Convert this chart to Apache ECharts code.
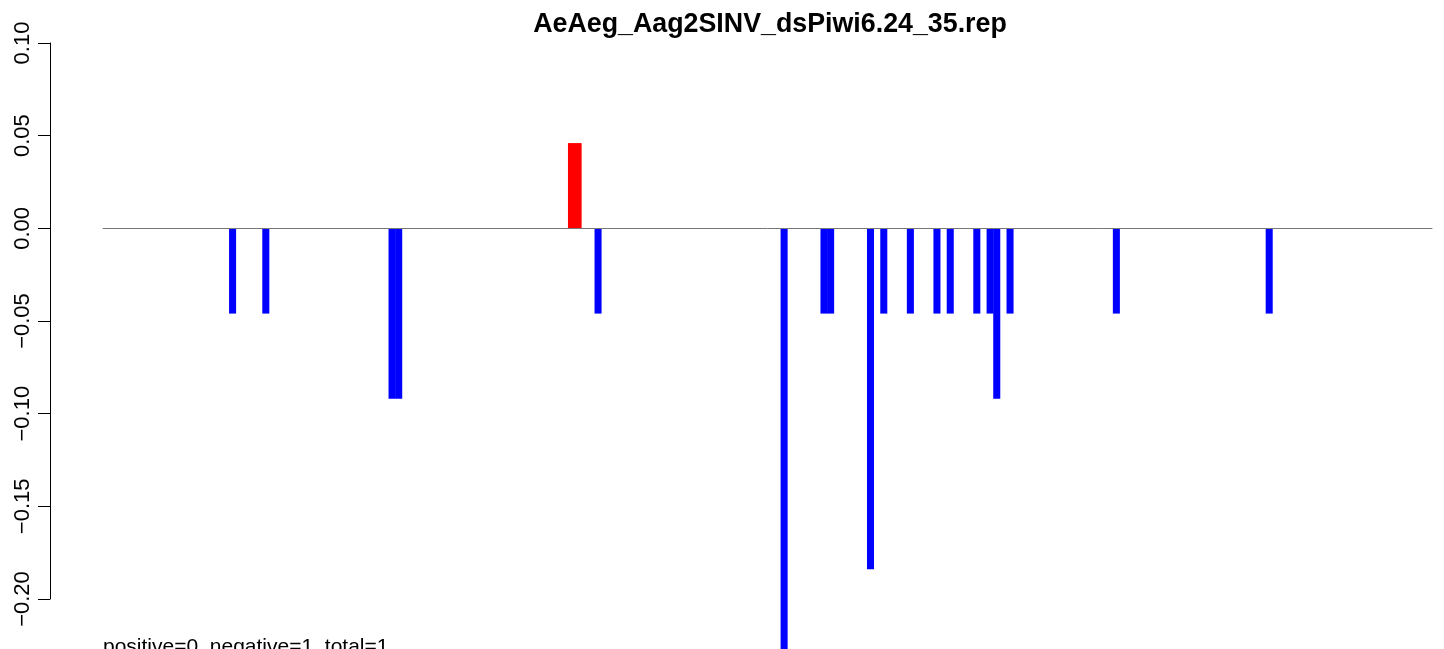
<!DOCTYPE html>
<html>
<head>
<meta charset="utf-8">
<script src="https://cdn.jsdelivr.net/npm/echarts@6/dist/echarts.min.js"></script>
<style>
html,body{margin:0;padding:0;background:#fff;}
#chart{width:1444px;height:649px;}
</style>
</head>
<body>
<div id="chart"></div>
<script>
const titleText = "AeAeg_Aag2SINV_dsPiwi6.24_35.rep";
const footerText = "positive=0, negative=1, total=1";
const binCount = 200;
const yTicks = [-0.20, -0.15, -0.10, -0.05, 0.00, 0.05, 0.10];
const posBins = [70, 71];
const posValues = [0.046, 0.046];
const negBins = [19, 24, 43, 44, 74, 102, 108, 109, 115, 117, 121, 125, 127, 131, 133, 134, 136, 152, 175];
const negValues = [-0.046, -0.046, -0.092, -0.092, -0.046, -0.23, -0.046, -0.046, -0.184, -0.046, -0.046, -0.046, -0.046, -0.046, -0.046, -0.092, -0.046, -0.046, -0.046];

const categories = [];
for (let i = 0; i < binCount; i++) categories.push(String(i + 1));
const posData = categories.map(() => null);
posBins.forEach((b, i) => { posData[b] = posValues[i]; });
const negData = categories.map(() => null);
negBins.forEach((b, i) => { negData[b] = negValues[i]; });

const FONT = "'Liberation Sans', Arial, Helvetica, sans-serif";
const chart = echarts.init(document.getElementById('chart'), null, {renderer: 'canvas'});
chart.setOption({
  animation: false,
  backgroundColor: '#ffffff',
  title: {
    text: titleText,
    left: 765,
    textAlign: 'center',
    top: 6,
    textStyle: {fontFamily: FONT, fontSize: 26.8, fontWeight: 'bold', color: '#000'}
  },
  grid: [
    {left: 50, right: 12, top: 43, height: 556},
    {left: 103, right: 12, top: 43, height: 556}
  ],
  xAxis: [
    {gridIndex: 0, type: 'value', show: false, min: 0, max: 1},
    {gridIndex: 1, type: 'category', data: categories, z: 3,
     axisLine: {show: true, onZero: true, lineStyle: {color: '#777777', width: 1}},
     axisTick: {show: false}, axisLabel: {show: false}, splitLine: {show: false}}
  ],
  yAxis: [
    {gridIndex: 0, type: 'value', min: yTicks[0], max: yTicks[yTicks.length - 1], interval: 0.05,
     axisLine: {show: true, lineStyle: {color: '#000', width: 1}},
     axisTick: {show: true, length: 12, lineStyle: {color: '#000', width: 1}},
     splitLine: {show: false},
     axisLabel: {rotate: 90, margin: 16, fontFamily: FONT, fontSize: 22, color: '#000',
       formatter: v => v.toFixed(2).replace('-', '\u2212')}},
    {gridIndex: 1, type: 'value', min: yTicks[0], max: yTicks[yTicks.length - 1], show: false, splitLine: {show: false}}
  ],
  series: [
    {type: 'bar', xAxisIndex: 1, yAxisIndex: 1, data: posData, barWidth: '106%', barGap: '-100%',
     clip: false, itemStyle: {color: '#ff0000'}},
    {type: 'bar', xAxisIndex: 1, yAxisIndex: 1, data: negData, barWidth: '106%', barGap: '-100%',
     clip: false, itemStyle: {color: '#0000ff'}}
  ],
  graphic: [
    {type: 'text', left: 103, top: 637, z: 10,
     style: {text: footerText, fontFamily: FONT, fontSize: 21, fill: '#000'}}
  ]
});
</script>
</body>
</html>
